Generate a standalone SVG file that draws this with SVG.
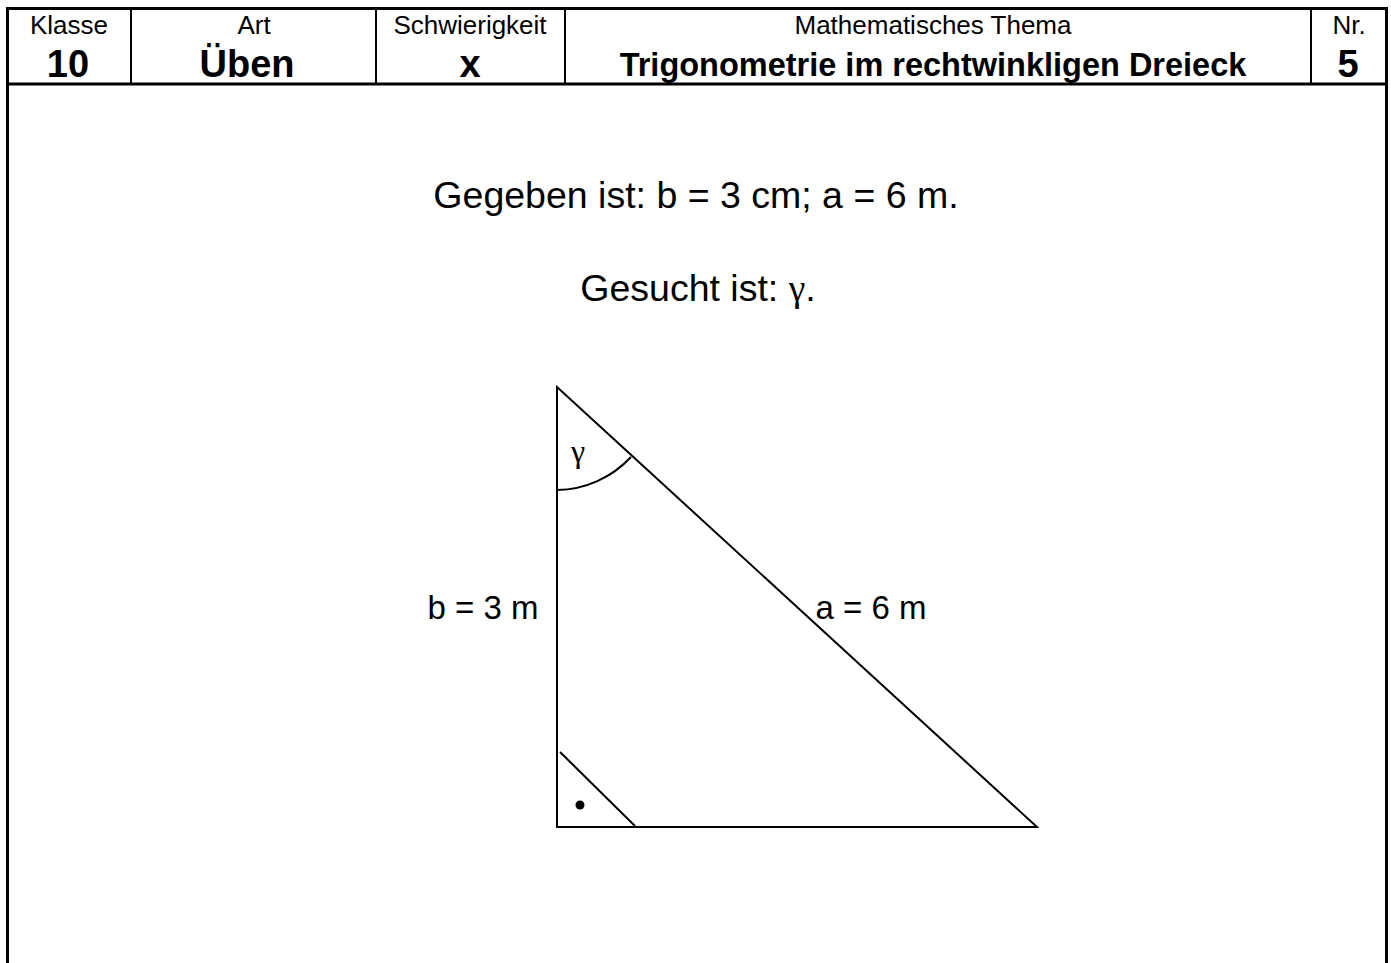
<svg xmlns="http://www.w3.org/2000/svg" width="1391" height="963" viewBox="0 0 1391 963">
<style>
.t{font-family:"Liberation Sans",Arial,sans-serif;fill:#000}
.s{font-size:26px}
.b{font-size:38px;font-weight:bold}
.bt{font-size:32.5px;font-weight:bold}
.m{font-size:37.5px}
.l{font-size:33px}
.g{font-family:"Liberation Serif","Times New Roman",serif}
.ln{stroke:#000;fill:none}
</style>
<rect width="1391" height="963" fill="#fff"/>
<g id="header">
<path class="ln" stroke-width="3" d="M7.5,963 V8.5 H1386.5 V963 M7.5,84 H1386.5"/>
<path class="ln" stroke-width="2" d="M131,8 V84 M376,8 V84 M565,8 V84 M1311,8 V84"/>
<text class="t s" x="69" y="34" text-anchor="middle">Klasse</text>
<text class="t b" x="68" y="77" text-anchor="middle">10</text>
<text class="t s" x="254" y="34" text-anchor="middle">Art</text>
<text class="t b" x="247" y="77" text-anchor="middle">Üben</text>
<text class="t s" x="470" y="34" text-anchor="middle">Schwierigkeit</text>
<text class="t b" x="470" y="77" text-anchor="middle">x</text>
<text class="t s" x="933" y="34" text-anchor="middle">Mathematisches Thema</text>
<text class="t bt" x="933" y="76" text-anchor="middle">Trigonometrie im rechtwinkligen Dreieck</text>
<text class="t s" x="1349" y="34" text-anchor="middle">Nr.</text>
<text class="t b" x="1348" y="77" text-anchor="middle">5</text>
</g>
<g id="task">
<text class="t m" x="696" y="208" text-anchor="middle">Gegeben ist: b = 3 cm; a = 6 m.</text>
<text class="t m" x="698" y="301" text-anchor="middle">Gesucht ist: <tspan class="g">γ</tspan>.</text>
</g>
<g id="triangle">
<path class="ln" stroke-width="2" d="M557,387 L557,827 L1037,827 Z"/>
<path class="ln" stroke-width="2" d="M557,490 A103,103 0 0 0 631,457"/>
<path class="ln" stroke-width="2" d="M560,752 L635,826"/>
<circle cx="580" cy="805" r="4.5" fill="#000"/>
<text class="t g" x="578" y="462" font-size="32" text-anchor="middle">γ</text>
<text class="t l" x="483" y="619" text-anchor="middle">b = 3 m</text>
<text class="t l" x="871" y="619" text-anchor="middle">a = 6 m</text>
</g>
</svg>
